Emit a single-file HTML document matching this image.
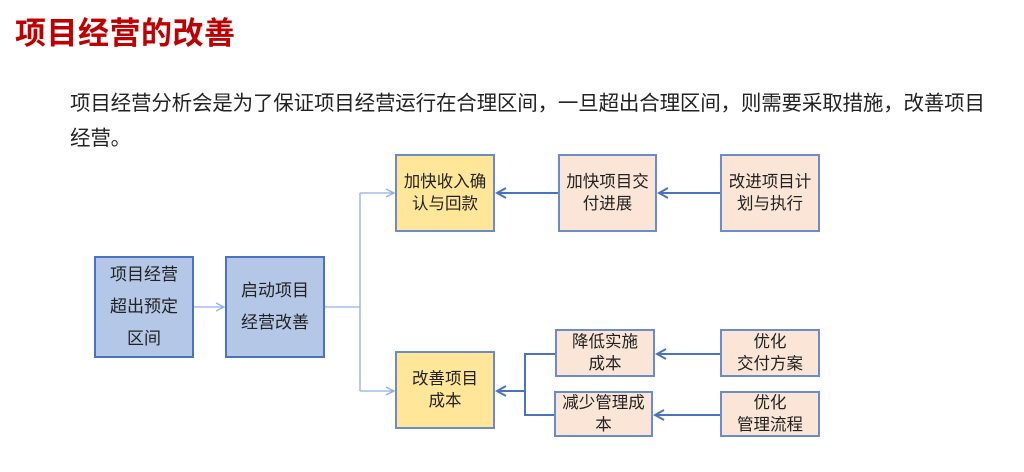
<!DOCTYPE html>
<html><head><meta charset="utf-8"><style>
body{margin:0;width:1024px;height:472px;background:#fff;position:relative;overflow:hidden;font-family:"Liberation Sans","Noto Sans CJK SC",sans-serif;}
.t{position:absolute;left:15px;top:8px;font-size:31px;font-weight:bold;color:#c00000;letter-spacing:0.5px;}
.p{position:absolute;left:70px;top:86px;width:960px;font-size:20.5px;line-height:35px;color:#222;letter-spacing:-0.17px;white-space:nowrap;}
.b{position:absolute;box-sizing:border-box;display:flex;align-items:center;justify-content:center;text-align:center;color:#222;font-size:16.5px;line-height:22px;}
.blue{background:#b4c7e7;border:2px solid #4a72c0;font-size:17px;line-height:32px;}
.y{background:#ffe699;border:2px solid #6b8cc7;}
.pk{background:#fbe5d6;border:2px solid #6b8cc7;}
</style></head><body>
<div class="t">项目经营的改善</div>
<div class="p">项目经营分析会是为了保证项目经营运行在合理区间，一旦超出合理区间，则需要采取措施，改善项目<br>经营。</div>
<svg width="1024" height="472" style="position:absolute;left:0;top:0">
<defs>
<marker id="a" markerWidth="10" markerHeight="10" refX="9" refY="5" orient="auto" markerUnits="userSpaceOnUse"><path d="M1,1 L9,5 L1,9" fill="none" stroke="#8fb0e6" stroke-width="1.3"/></marker>
<marker id="b" markerWidth="12" markerHeight="12" refX="10" refY="6" orient="auto" markerUnits="userSpaceOnUse"><path d="M1,1 L10,6 L1,11" fill="none" stroke="#4a72c0" stroke-width="2"/></marker>
</defs>
<g fill="none" stroke="#8fb0e6" stroke-width="1.3">
<line x1="194" y1="307" x2="224" y2="307" marker-end="url(#a)"/>
<polyline points="325,307 360,307"/>
<polyline points="360,193 360,391"/>
<line x1="360" y1="193" x2="394" y2="193" marker-end="url(#a)"/>
<line x1="360" y1="391" x2="394" y2="391" marker-end="url(#a)"/>
</g>
<g fill="none" stroke="#4a72c0" stroke-width="2">
<line x1="558" y1="193" x2="497" y2="193" marker-end="url(#b)"/>
<line x1="720" y1="193" x2="659" y2="193" marker-end="url(#b)"/>
<polyline points="555,354 525,354 525,415 554,415"/>
<line x1="525" y1="391" x2="497" y2="391" marker-end="url(#b)"/>
<line x1="720" y1="354" x2="657" y2="354" marker-end="url(#b)"/>
<line x1="720" y1="415" x2="655" y2="415" marker-end="url(#b)"/>
</g>
</svg>
<div class="b blue" style="left:94px;top:256px;width:100px;height:102px">项目经营<br>超出预定<br>区间</div>
<div class="b blue" style="left:225px;top:256px;width:100px;height:102px">启动项目<br>经营改善</div>
<div class="b y" style="left:395px;top:154px;width:100px;height:78px">加快收入确<br>认与回款</div>
<div class="b y" style="left:395px;top:351px;width:100px;height:78px">改善项目<br>成本</div>
<div class="b pk" style="left:558px;top:154px;width:99px;height:78px">加快项目交<br>付进展</div>
<div class="b pk" style="left:720px;top:154px;width:100px;height:78px">改进项目计<br>划与执行</div>
<div class="b pk" style="left:555px;top:329px;width:100px;height:48px">降低实施<br>成本</div>
<div class="b pk" style="left:554px;top:391px;width:99px;height:46px">减少管理成<br>本</div>
<div class="b pk" style="left:720px;top:329px;width:100px;height:48px">优化<br>交付方案</div>
<div class="b pk" style="left:720px;top:391px;width:100px;height:46px">优化<br>管理流程</div>
</body></html>
